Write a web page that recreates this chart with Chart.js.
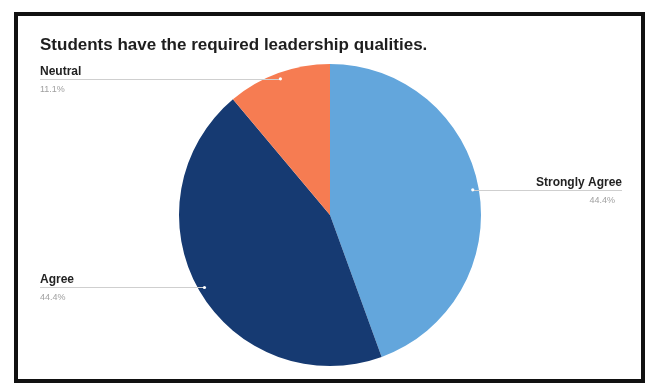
<!DOCTYPE html>
<html>
<head>
<meta charset="utf-8">
<script src="https://cdn.jsdelivr.net/npm/chart.js@4/dist/chart.umd.min.js"></script>
<style>
  body { margin: 0; background: #fff; }
  #wrap { position: relative; width: 647px; height: 383px; overflow: hidden; }
  #frame {
    position: absolute; left: 14px; top: 12px; width: 623px; height: 363px;
    border: 4px solid #111; box-sizing: content-box;
  }
  #title {
    position: absolute; left: 40px; top: 35px;
    font: bold 17px "Liberation Sans", Arial, sans-serif; color: #1e1e1e;
  }
  canvas { position: absolute; left: 0; top: 0; }
</style>
</head>
<body>
<div id="wrap">
  <div id="frame"></div>
  <canvas id="pie" width="647" height="383"></canvas>
  <div id="title">Students have the required leadership qualities.</div>
</div>
<script>
  //! DATA
  const labels = ["Strongly Agree", "Agree", "Neutral"];
  const counts = [4, 4, 1];
  const percents = ["44.4%", "44.4%", "11.1%"];
  const colors = ["#63a6dc", "#163a72", "#f67c52"];

  // leader lines + outside labels, drawn from the arc geometry
  const outsideLabels = {
    id: "outsideLabels",
    afterDraw(chart) {
      const ctx = chart.ctx;
      const arcs = chart.getDatasetMeta(0).data;
      arcs.forEach((arc, i) => {
        const p = arc.getProps(["x", "y", "startAngle", "endAngle", "outerRadius"], true);
        const mid = (p.startAngle + p.endAngle) / 2;
        const r = p.outerRadius * 0.96;
        const dx = p.x + Math.cos(mid) * r;
        const dy = p.y + Math.sin(mid) * r;
        const right = Math.cos(mid) > 0;
        const edge = right ? 622 : 40;

        ctx.save();
        ctx.strokeStyle = "#cfcfcf";
        ctx.lineWidth = 1;
        ctx.beginPath();
        ctx.moveTo(dx, Math.round(dy) + 0.5);
        ctx.lineTo(edge, Math.round(dy) + 0.5);
        ctx.stroke();

        ctx.fillStyle = "#fff";
        ctx.beginPath();
        ctx.arc(dx, dy, 1.6, 0, Math.PI * 2);
        ctx.fill();

        ctx.textAlign = right ? "right" : "left";
        ctx.fillStyle = "#222";
        ctx.font = "bold 12px 'Liberation Sans', Arial, sans-serif";
        ctx.fillText(labels[i], edge, dy - 4);
        ctx.fillStyle = "#a0a0a0";
        ctx.font = "9px 'Liberation Sans', Arial, sans-serif";
        ctx.fillText(percents[i], right ? edge - 7 : edge, dy + 13);
        ctx.restore();
      });
    }
  };

  new Chart(document.getElementById("pie"), {
    type: "pie",
    data: {
      labels: labels,
      datasets: [{
        data: counts,
        backgroundColor: colors,
        borderWidth: 0
      }]
    },
    options: {
      responsive: false,
      animation: false,
      layout: { padding: { top: 64, bottom: 17, left: 179, right: 166 } },
      plugins: {
        legend: { display: false },
        tooltip: { enabled: false }
      }
    },
    plugins: [outsideLabels]
  });
</script>
</body>
</html>
